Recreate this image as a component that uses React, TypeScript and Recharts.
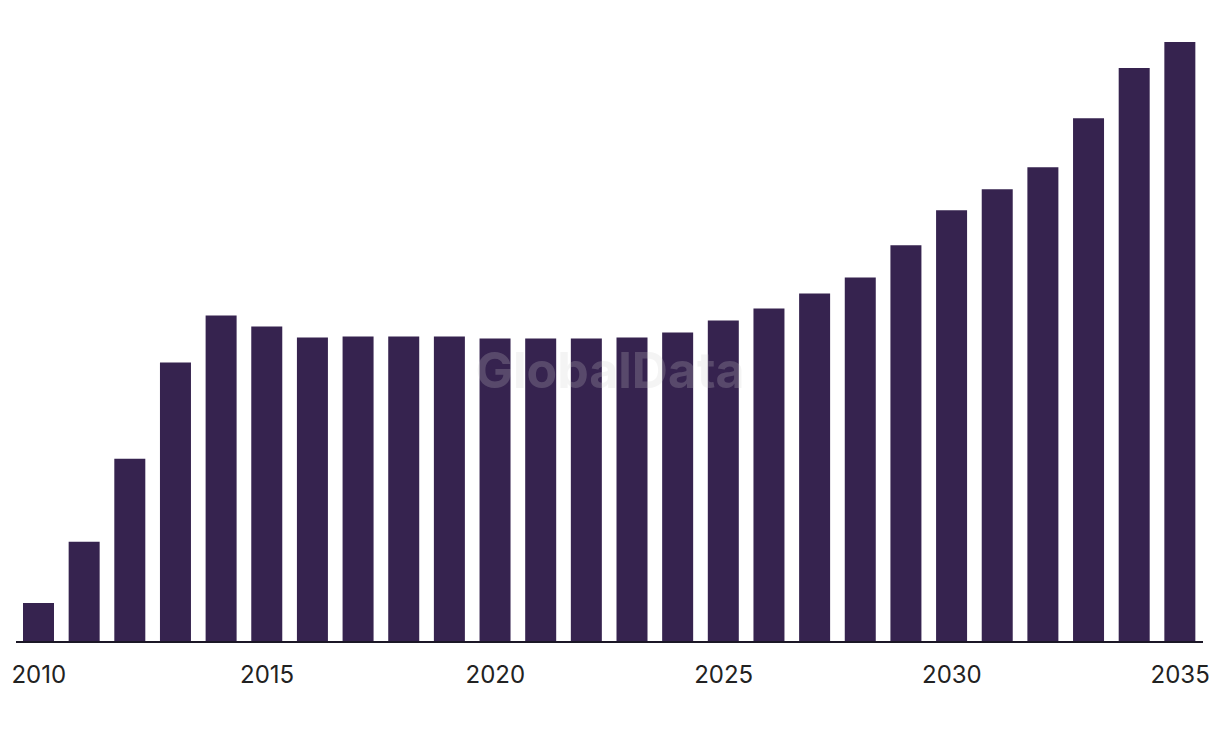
import React from "react";
import { BarChart, Bar, XAxis, YAxis } from "recharts";

const years = [
  "2010", "2011", "2012", "2013", "2014", "2015", "2016", "2017", "2018",
  "2019", "2020", "2021", "2022", "2023", "2024", "2025", "2026", "2027",
  "2028", "2029", "2030", "2031", "2032", "2033", "2034", "2035",
];

const values = [
  39, 100, 183, 279, 326, 315, 304, 305, 305, 305, 303, 303, 303, 304, 309,
  321, 333, 348, 364, 396, 431, 452, 474, 523, 573, 599,
];

const data = years.map((year, i) => ({ year, value: values[i] }));

export default function App() {
  return (
    <div style={{ position: "absolute", left: 0, top: 0, width: 1220, height: 738 }}>
      <BarChart
        width={1220}
        height={738}
        data={data}
        margin={{ top: 42, right: 17, bottom: 0, left: 16 }}
      >
        <XAxis
          dataKey="year"
          interval={4}
          height={96}
          tickLine={false}
          tickSize={0}
          tickMargin={24}
          axisLine={{ stroke: "#1b1726", strokeWidth: 2 }}
          tick={{ fill: "#222", fontSize: 24, fontFamily: "Inter" }}
        />
        <YAxis hide domain={[0, 599]} />
        <Bar dataKey="value" fill="#36234f" barSize={31} isAnimationActive={false} />
      </BarChart>
      <div
        style={{
          position: "absolute",
          left: 0,
          width: 1220,
          top: 341,
          textAlign: "center",
          fontFamily: "Inter",
          fontWeight: 700,
          fontSize: 50,
          lineHeight: "58px",
          color: "#d0d0d0",
          opacity: 0.22,
          pointerEvents: "none",
        }}
      >
        GlobalData
      </div>
    </div>
  );
}
